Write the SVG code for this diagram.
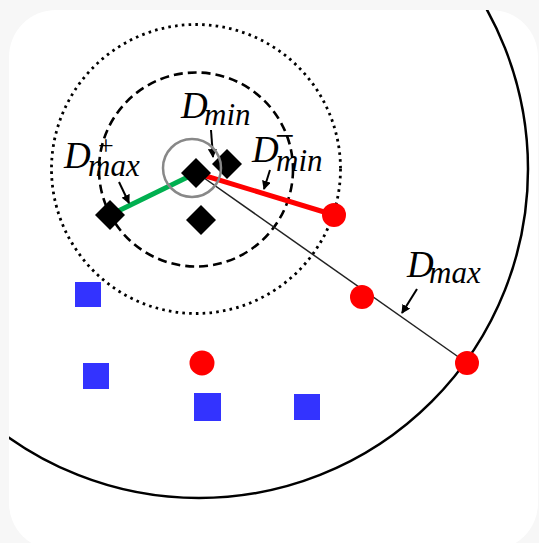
<svg xmlns="http://www.w3.org/2000/svg" width="539" height="543" viewBox="0 0 539 543">
<style>
.lbl{font-family:"Liberation Serif","DejaVu Serif",serif;fill:#000}
.it{font-style:italic}
.big{font-size:37px}
.sub{font-size:31px}
.dia{fill:#000}
.red{fill:#ff0000}
.blue{fill:#3333ff}
.arr{stroke:#000;stroke-width:2;fill:none;marker-end:url(#ah)}
</style>
<defs>
<marker id="ah" markerUnits="userSpaceOnUse" markerWidth="9" markerHeight="9" refX="8" refY="4.5" orient="auto">
<path d="M0,0 L9,4.5 L0,9 z" fill="#000"/>
</marker>
<path id="d" d="M0,-15 L15,0 L0,15 L-15,0 z"/>
<clipPath id="card">
<rect x="9" y="10" width="529" height="540" rx="47"/>
</clipPath>
</defs>
<rect width="539" height="543" fill="#f7f7f7"/>
<rect x="9" y="10" width="529" height="540" rx="47" fill="#fff"/>
<g id="rings" fill="none" clip-path="url(#card)">
<circle cx="199" cy="169" r="329" stroke="#000" stroke-width="2.5"/>
<circle cx="196" cy="169" r="144.5" stroke="#000" stroke-width="2.8" stroke-dasharray="2.6 4.2"/>
<circle cx="196" cy="169.5" r="97" stroke="#000" stroke-width="2.6" stroke-dasharray="9 5"/>
</g>
<g id="connectors">
<line x1="197" y1="173" x2="467" y2="363" stroke="#222" stroke-width="1.5"/>
<line x1="110" y1="215" x2="196" y2="173" stroke="#00b050" stroke-width="5"/>
<line x1="196" y1="173" x2="334" y2="215" stroke="#ff0000" stroke-width="5"/>
<line class="arr" x1="119" y1="182" x2="129" y2="203"/>
<line class="arr" x1="211" y1="130" x2="213" y2="157"/>
<line class="arr" x1="270" y1="170" x2="264" y2="189"/>
<line class="arr" x1="417" y1="289" x2="402" y2="313"/>
</g>
<g id="diamonds">
<use href="#d" class="dia" x="196" y="173"/>
<use href="#d" class="dia" x="227" y="164"/>
<use href="#d" class="dia" x="201" y="220"/>
<use href="#d" class="dia" x="110" y="215"/>
</g>
<circle id="query-ring" cx="192" cy="168" r="29" fill="none" stroke="#888" stroke-width="2.5"/>
<g id="red-points">
<circle class="red" cx="334" cy="215" r="12"/>
<circle class="red" cx="362" cy="297" r="12"/>
<circle class="red" cx="467" cy="363" r="12"/>
<circle class="red" cx="202" cy="363" r="12.5"/>
</g>
<g id="blue-points">
<rect class="blue" x="75" y="282" width="26" height="25"/>
<rect class="blue" x="83" y="363" width="26" height="26"/>
<rect class="blue" x="194" y="393" width="27" height="28"/>
<rect class="blue" x="294" y="394" width="26" height="26"/>
</g>
<g id="label-dmax-plus">
<text class="lbl"><tspan class="it big" x="64" y="168">D</tspan><tspan class="it sub" x="88" y="176">max</tspan><tspan x="98" y="155" font-size="28">+</tspan></text>
</g>
<g id="label-dmin">
<text class="lbl"><tspan class="it big" x="181" y="118">D</tspan><tspan class="it sub" x="204" y="125">min</tspan></text>
</g>
<g id="label-dmin-minus">
<text class="lbl"><tspan class="it big" x="252" y="162">D</tspan><tspan x="275" y="147" font-size="34">−</tspan><tspan class="it sub" x="276" y="171">min</tspan></text>
</g>
<g id="label-dmax">
<text class="lbl"><tspan class="it big" x="407" y="277">D</tspan><tspan class="it sub" x="429" y="283">max</tspan></text>
</g>
</svg>
